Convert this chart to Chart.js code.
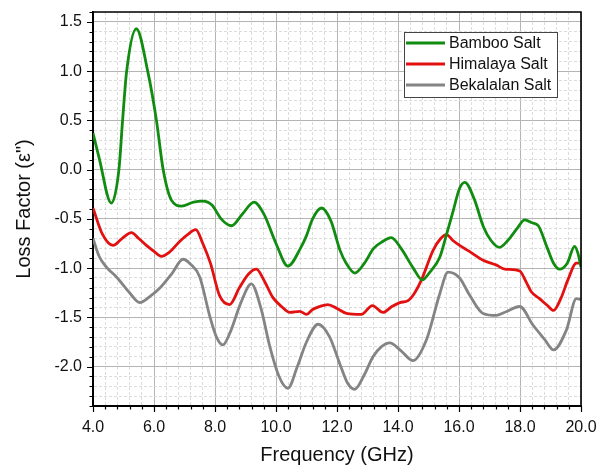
<!DOCTYPE html>
<html>
<head>
<meta charset="utf-8">
<script src="https://cdn.jsdelivr.net/npm/chart.js@4.4.0/dist/chart.umd.min.js"></script>
<style>
  html, body { margin: 0; padding: 0; background: #fff; }
  #wrap { width: 596px; height: 467px; position: relative; }
</style>
</head>
<body>
<div id="wrap"><canvas id="lossChart"></canvas></div>
<script>
// Loss factor curves (frequency in GHz)
const seriesNames = ["Bamboo Salt", "Himalaya Salt", "Bekalalan Salt"];
const seriesColors = ["#108c10", "#e31010", "#848484"];

const bambooFreq = [4.0, 4.2, 4.6, 4.85, 4.97, 5.1, 5.42, 5.8, 6.08, 6.3, 6.57, 6.9, 7.3, 7.6, 7.9, 8.2, 8.54, 8.9, 9.28, 9.6, 10.0, 10.39, 10.8, 11.0, 11.2, 11.49, 11.8, 12.1, 12.3, 12.58, 12.9, 13.2, 13.5, 13.78, 14.1, 14.5, 14.8, 15.02, 15.37, 15.59, 15.8, 16.02, 16.19, 16.5, 16.8, 17.05, 17.33, 17.6, 17.9, 18.15, 18.4, 18.6, 18.9, 19.1, 19.3, 19.55, 19.79, 19.9, 20.0];
const bambooLoss = [0.37, 0.12, -0.34, 0.0, 0.5, 0.99, 1.43, 0.99, 0.5, 0.0, -0.31, -0.37, -0.33, -0.32, -0.36, -0.5, -0.57, -0.45, -0.33, -0.45, -0.75, -0.98, -0.8, -0.67, -0.5, -0.39, -0.52, -0.82, -0.95, -1.05, -0.95, -0.8, -0.73, -0.69, -0.8, -1.0, -1.12, -1.05, -0.89, -0.66, -0.43, -0.19, -0.13, -0.3, -0.58, -0.72, -0.79, -0.72, -0.6, -0.51, -0.54, -0.57, -0.8, -0.95, -1.01, -0.95, -0.78, -0.85, -0.99];

const himalayaFreq = [4.0, 4.3, 4.66, 4.95, 5.26, 5.5, 5.75, 6.0, 6.24, 6.5, 6.84, 7.1, 7.37, 7.6, 7.85, 8.15, 8.48, 8.8, 9.1, 9.36, 9.6, 9.9, 10.18, 10.45, 10.78, 11.0, 11.2, 11.43, 11.7, 12.0, 12.31, 12.8, 13.16, 13.51, 13.8, 14.06, 14.33, 14.55, 14.77, 15.15, 15.4, 15.59, 15.8, 16.02, 16.34, 16.79, 17.23, 17.5, 17.99, 18.2, 18.37, 18.64, 18.9, 19.1, 19.35, 19.57, 19.85, 20.0];
const himalayaLoss = [-0.39, -0.65, -0.77, -0.7, -0.64, -0.7, -0.77, -0.83, -0.88, -0.84, -0.73, -0.66, -0.61, -0.75, -0.95, -1.28, -1.37, -1.2, -1.06, -1.01, -1.12, -1.3, -1.39, -1.45, -1.44, -1.47, -1.42, -1.39, -1.37, -1.41, -1.46, -1.47, -1.38, -1.45, -1.39, -1.35, -1.33, -1.25, -1.12, -0.82, -0.7, -0.66, -0.72, -0.77, -0.83, -0.92, -0.97, -1.01, -1.03, -1.14, -1.24, -1.31, -1.38, -1.43, -1.3, -1.12, -0.95, -0.95];

const bekalalanFreq = [4.0, 4.2, 4.44, 4.77, 5.2, 5.53, 5.9, 6.2, 6.6, 6.95, 7.2, 7.5, 7.83, 8.05, 8.26, 8.5, 8.85, 9.19, 9.5, 9.8, 10.1, 10.39, 10.7, 11.0, 11.38, 11.76, 12.09, 12.35, 12.58, 12.9, 13.18, 13.45, 13.73, 14.1, 14.49, 14.93, 15.37, 15.64, 16.02, 16.34, 16.79, 17.23, 17.56, 17.99, 18.43, 18.8, 19.1, 19.52, 19.85, 20.0];
const bekalalanLoss = [-0.7, -0.88, -0.99, -1.09, -1.25, -1.35, -1.28, -1.2, -1.05, -0.91, -0.96, -1.09, -1.49, -1.7, -1.78, -1.65, -1.35, -1.16, -1.4, -1.8, -2.1, -2.22, -2.0, -1.75, -1.57, -1.7, -1.97, -2.17, -2.23, -2.08, -1.9, -1.8, -1.76, -1.84, -1.94, -1.73, -1.26, -1.04, -1.1, -1.27, -1.46, -1.48, -1.44, -1.39, -1.58, -1.72, -1.83, -1.63, -1.31, -1.32];

const xMin = 4, xMax = 20, xMinorStep = 0.4, xMajorStep = 2;
const yMin = -2.4, yMax = 1.6, yMinorStep = 0.1, yMajorStep = 0.5;

const FONT = "'Liberation Sans', Arial, sans-serif";

function pairUp(xs, ys) {
    return xs.map((x, i) => ({ x: x, y: ys[i] }));
}

function isMajor(v, step) {
    const r = v / step;
    return Math.abs(r - Math.round(r)) < 1e-6;
}

// outward tick marks, frame on top/right and the boxed legend
const decorPlugin = {
    id: "decor",
    afterDraw(chart) {
        const ctx = chart.ctx;
        const a = chart.chartArea;
        const xs = chart.scales.x, ys = chart.scales.y;
        ctx.save();
        ctx.strokeStyle = "#000";
        ctx.lineWidth = 1.2;
        ctx.beginPath();
        xs.ticks.forEach(t => {
            const px = Math.round(xs.getPixelForValue(t.value)) + 0.5;
            const len = isMajor(t.value, xMajorStep) ? 6 : 3.5;
            ctx.moveTo(px, a.bottom);
            ctx.lineTo(px, a.bottom + len);
        });
        ys.ticks.forEach(t => {
            const py = Math.round(ys.getPixelForValue(t.value)) + 0.5;
            const len = isMajor(t.value, yMajorStep) ? 6 : 3.5;
            ctx.moveTo(a.left, py);
            ctx.lineTo(a.left - len, py);
        });
        ctx.stroke();

        // frame
        ctx.lineWidth = 1.6;
        ctx.beginPath();
        ctx.moveTo(a.left, a.top);
        ctx.lineTo(a.right, a.top);
        ctx.lineTo(a.right, a.bottom);
        ctx.stroke();

        // legend box
        const bx = 404, by = 32, bw = 153, bh = 65;
        ctx.fillStyle = "#fff";
        ctx.fillRect(bx, by, bw, bh);
        ctx.strokeStyle = "#444";
        ctx.lineWidth = 1;
        ctx.strokeRect(bx + 0.5, by + 0.5, bw, bh);
        ctx.font = "16px " + FONT;
        ctx.textBaseline = "middle";
        chart.data.datasets.forEach((ds, i) => {
            const ry = by + 11 + i * 21;
            ctx.strokeStyle = ds.borderColor;
            ctx.lineWidth = 3;
            ctx.beginPath();
            ctx.moveTo(bx + 2, ry);
            ctx.lineTo(bx + 41, ry);
            ctx.stroke();
            ctx.fillStyle = "#111";
            ctx.fillText(ds.label, bx + 45, ry + 1);
        });
        ctx.restore();
    }
};

const ctx = document.getElementById("lossChart").getContext("2d");
const lossChart = new Chart(ctx, {
    type: "line",
    data: {
        datasets: [
            { label: seriesNames[0], data: pairUp(bambooFreq, bambooLoss), borderColor: seriesColors[0] },
            { label: seriesNames[1], data: pairUp(himalayaFreq, himalayaLoss), borderColor: seriesColors[1] },
            { label: seriesNames[2], data: pairUp(bekalalanFreq, bekalalanLoss), borderColor: seriesColors[2] }
        ].map(d => Object.assign(d, {
            borderWidth: 2.8,
            pointRadius: 0,
            fill: false,
            cubicInterpolationMode: "monotone"
        }))
    },
    options: {
        responsive: true,
        maintainAspectRatio: false,
        animation: false,
        layout: { padding: { top: 12, right: 15, left: 0, bottom: 0 } },
        plugins: {
            legend: { display: false },
            tooltip: { enabled: false }
        },
        scales: {
            x: {
                type: "linear",
                min: xMin,
                max: xMax,
                afterFit: s => { s.height = 61; s.paddingLeft = 0; s.paddingRight = 0; },
                grid: {
                    drawTicks: false,
                    color: c => isMajor(c.tick.value, xMajorStep) ? "#b4b4b4" : "#dcdcdc",
                    lineWidth: 1
                },
                border: {
                    color: "#000",
                    width: 2,
                    dash: c => (c.tick && isMajor(c.tick.value, xMajorStep)) ? [] : [3, 2]
                },
                ticks: {
                    stepSize: xMinorStep,
                    maxTicksLimit: 200,
                    autoSkip: false,
                    maxRotation: 0,
                    padding: 12,
                    color: "#111",
                    font: { family: FONT, size: 16 },
                    callback: v => isMajor(v, xMajorStep) ? v.toFixed(1) : ""
                },
                title: {
                    display: true,
                    text: "Frequency (GHz)",
                    color: "#111",
                    font: { family: FONT, size: 20 },
                    padding: { top: 0, bottom: 0 }
                }
            },
            y: {
                min: yMin,
                max: yMax,
                afterFit: s => { s.width = 93; s.paddingTop = 0; s.paddingBottom = 0; },
                grid: {
                    drawTicks: false,
                    color: c => isMajor(c.tick.value, yMajorStep) ? "#b4b4b4" : "#dcdcdc",
                    lineWidth: 1
                },
                border: {
                    color: "#000",
                    width: 2,
                    dash: c => (c.tick && isMajor(c.tick.value, yMajorStep)) ? [] : [3, 2]
                },
                ticks: {
                    stepSize: yMinorStep,
                    maxTicksLimit: 200,
                    autoSkip: false,
                    padding: 11,
                    color: "#111",
                    font: { family: FONT, size: 16 },
                    callback: v => isMajor(v, yMajorStep) ? v.toFixed(1) : ""
                },
                title: {
                    display: true,
                    text: "Loss Factor (ε\")",
                    color: "#111",
                    font: { family: FONT, size: 20 },
                    padding: { top: 12, bottom: 0 }
                }
            }
        }
    },
    plugins: [decorPlugin]
});
</script>
</body>
</html>
